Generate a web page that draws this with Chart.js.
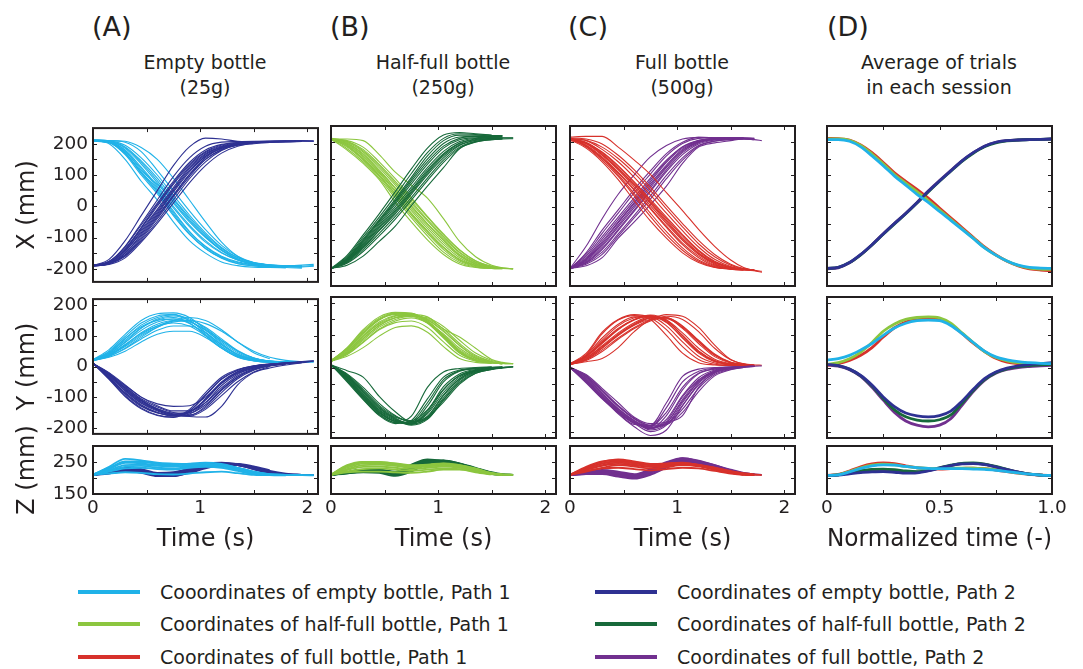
<!DOCTYPE html>
<html>
<head>
<meta charset="utf-8">
<script src="https://cdn.jsdelivr.net/npm/chart.js@4.4.1/dist/chart.umd.min.js"></script>
<style>
  html, body { margin: 0; padding: 0; background: #fff; }
  body { width: 1083px; height: 669px; position: relative; overflow: hidden;
         font-family: "DejaVu Sans", sans-serif; color: #231f20; }
  canvas { position: absolute; }
  .hdr { position: absolute; top: 12px; font-size: 27px; line-height: 30px; white-space: nowrap; }
  .ttl { position: absolute; top: 50px; width: 260px; text-align: center; font-size: 19px; line-height: 25px; }
  .leg { position: absolute; font-size: 19px; line-height: 20px; white-space: nowrap; }
  .leg i { position: absolute; left: -82px; top: 8px; width: 62px; height: 4px; }
</style>
</head>
<body>
<div class="hdr" style="left:92px">(A)</div>
<div class="hdr" style="left:330px">(B)</div>
<div class="hdr" style="left:568px">(C)</div>
<div class="hdr" style="left:827px">(D)</div>
<div class="ttl" style="left:75px">Empty bottle<br>(25g)</div>
<div class="ttl" style="left:313px">Half-full bottle<br>(250g)</div>
<div class="ttl" style="left:552px">Full bottle<br>(500g)</div>
<div class="ttl" style="left:809px">Average of trials<br>in each session</div>

<div class="leg" style="left:160px;top:582px"><i style="background:#20b2e8"></i>Cooordinates of empty bottle, Path 1</div>
<div class="leg" style="left:160px;top:614px"><i style="background:#8cc63f"></i>Coordinates of half-full bottle, Path 1</div>
<div class="leg" style="left:160px;top:647px"><i style="background:#d7312b"></i>Coordinates of full bottle, Path 1</div>
<div class="leg" style="left:677px;top:582px"><i style="background:#2e3192"></i>Coordinates of empty bottle, Path 2</div>
<div class="leg" style="left:677px;top:614px"><i style="background:#17693a"></i>Coordinates of half-full bottle, Path 2</div>
<div class="leg" style="left:677px;top:647px"><i style="background:#71308f"></i>Coordinates of full bottle, Path 2</div>

<script>
// ---- sample times (s) of the recorded trials in each session ----
const tEmpty = [0, 0.15, 0.3, 0.45, 0.6, 0.75, 0.9, 1.05, 1.2, 1.35, 1.5, 1.65, 1.8, 1.95, 2.06];
const tHalf  = [0, 0.15, 0.3, 0.45, 0.6, 0.75, 0.9, 1.05, 1.2, 1.35, 1.5, 1.6, 1.7];
const tFull  = [0, 0.15, 0.3, 0.45, 0.6, 0.75, 0.9, 1.05, 1.2, 1.35, 1.5, 1.62, 1.72, 1.79];
// normalized time for the session averages
const tNorm  = [0, 0.05, 0.1, 0.15, 0.2, 0.25, 0.3, 0.35, 0.4, 0.45, 0.5, 0.55, 0.6, 0.65, 0.7, 0.75, 0.8, 0.85, 0.9, 0.95, 1];

// ---- empty bottle (25 g), one row per trial, mm ----
const emptyX1 = [
  [210,200,150,80,20,-50,-110,-150,-178,-190,-195,-196,-197],
  [212,205,165,100,40,-30,-90,-135,-165,-183,-190,-192,-193,-193],
  [208,204,175,120,60,-5,-65,-115,-150,-172,-183,-188,-190,-191,-190],
  [210,207,185,135,75,10,-50,-100,-140,-168,-182,-188,-190],
  [211,208,190,145,90,25,-35,-90,-135,-165,-180,-187,-190,-192],
  [210,210,205,175,115,50,-15,-75,-125,-160,-180,-188],
  [209,203,170,110,55,-15,-80,-130,-162,-180,-188,-190,-190,-188,-186],
  [210,206,180,125,65,0,-60,-110,-148,-172,-185,-192,-196,-198],
  [213,208,178,115,70,20,-40,-95,-140,-170,-186,-193,-196],
  [210,210,208,188,150,90,20,-50,-115,-160,-182,-190,-192,-195],
  [211,206,172,105,45,-25,-88,-135,-166,-184,-191,-194,-196],
  [210,208,188,140,82,15,-45,-98,-142,-170,-184,-190,-193,-194,-192],
  [209,204,168,108,50,-20,-82,-128,-160,-178,-187,-190,-191,-190],
  [212,209,195,155,100,35,-28,-85,-132,-164,-181,-188,-191]
];
const emptyX2 = [
  [-190,-170,-110,-30,50,130,190,218,215,208,206,207,207],
  [-192,-178,-130,-60,10,80,140,180,198,204,206,207,207,208],
  [-188,-180,-145,-80,-15,55,120,165,190,200,205,207,208,208,208],
  [-190,-182,-150,-90,-25,45,110,160,188,200,205,206,207],
  [-191,-184,-158,-105,-40,30,95,150,182,198,204,206,207,208],
  [-190,-186,-165,-115,-55,10,75,130,170,192,202,206],
  [-189,-176,-135,-70,0,70,130,172,193,202,206,208,209,209,208],
  [-190,-180,-140,-75,-10,60,125,168,190,200,204,206,206,207],
  [-192,-183,-150,-95,-30,35,100,150,180,196,203,206,207],
  [-190,-179,-142,-85,-20,50,115,160,185,195,200,204,206,208],
  [-191,-181,-138,-68,5,75,135,175,196,204,207,208,208],
  [-189,-183,-155,-100,-35,35,102,155,186,200,206,208,209,210,209],
  [-190,-177,-128,-55,20,95,155,192,205,207,208,208,208,208],
  [-192,-185,-160,-110,-48,20,88,142,178,197,204,207,208]
];
const emptyY1 = [
  [22,55,105,150,172,175,160,120,75,40,25,18,15],
  [20,45,90,135,160,168,155,125,85,50,28,18,15,14],
  [18,35,70,110,138,150,145,120,85,50,28,18,15,14,15],
  [20,30,50,80,105,115,115,95,60,30,18,14,13],
  [24,42,78,118,145,155,148,118,80,45,25,17,15,16],
  [20,33,60,95,128,150,160,150,120,80,45,25],
  [22,48,92,130,150,155,140,105,65,35,20,15,14,15,15],
  [19,38,72,108,132,142,132,100,60,32,19,14,14,15],
  [21,40,80,125,155,165,150,110,65,35,22,17,16],
  [20,36,65,100,128,145,150,140,115,80,50,30,20,16],
  [20,50,98,142,165,170,150,112,70,38,22,16,15,16],
  [21,38,68,104,132,148,150,128,90,52,28,18,16],
  [19,44,85,126,152,160,142,102,60,32,19,15,15,16,17],
  [22,34,58,90,118,132,132,110,72,40,22,16,15,15]
];
const emptyY2 = [
  [10,-40,-95,-135,-158,-165,-140,-85,-35,-10,2,8,12],
  [12,-30,-80,-120,-145,-158,-150,-110,-55,-20,-3,6,10,14],
  [8,-25,-70,-110,-138,-152,-152,-125,-75,-35,-10,3,10,15,18],
  [10,-20,-60,-100,-122,-130,-128,-100,-55,-22,-6,4,8],
  [10,-35,-85,-125,-150,-162,-155,-118,-62,-25,-5,5,10,13],
  [11,-28,-72,-112,-140,-158,-162,-140,-95,-50,-18,0],
  [9,-22,-65,-108,-138,-155,-163,-165,-130,-60,-20,-5,5,12,18],
  [10,-32,-78,-118,-142,-155,-148,-108,-52,-18,-2,6,10,12],
  [12,-38,-90,-130,-152,-160,-145,-95,-42,-12,2,8,12],
  [10,-26,-68,-105,-132,-150,-158,-135,-85,-40,-12,2,10,16],
  [10,-36,-88,-128,-150,-160,-150,-105,-50,-16,0,7,11,14],
  [9,-28,-75,-115,-142,-160,-160,-130,-78,-35,-10,2,8],
  [11,-42,-98,-138,-160,-166,-145,-92,-40,-12,1,8,12,16,19],
  [10,-24,-62,-100,-128,-145,-145,-118,-70,-30,-8,3,9,13]
];
const emptyZ1 = [
  [210,235,260,255,248,245,243,242,240,232,220,212,210],
  [208,228,248,250,245,242,244,245,240,228,215,210,209,209],
  [212,225,240,242,238,236,240,242,238,225,214,210,210,209,209],
  [209,220,230,232,228,226,232,235,232,222,212,209,208],
  [210,230,252,252,244,238,236,238,236,226,215,211,210,210],
  [211,222,235,238,232,230,235,240,240,232,220,212],
  [210,214,218,216,212,211,214,218,220,215,210,209,209,209,208],
  [210,232,248,246,240,240,245,248,244,232,218,211,210,210]
];
const emptyZ2 = [
  [210,218,226,222,210,212,225,240,245,240,228,215,210],
  [209,216,224,220,208,210,222,238,246,244,232,218,211,210],
  [210,220,228,224,212,214,228,242,246,242,232,220,212,210,209],
  [211,215,222,216,206,206,218,234,242,240,230,216,211],
  [210,219,230,226,214,216,230,244,248,243,230,216,210,209],
  [210,217,225,221,210,211,222,236,244,244,236,224],
  [209,214,220,218,208,207,216,230,240,242,234,222,214,210,209],
  [210,221,232,228,216,218,230,242,246,240,228,214,210,210]
];

// ---- half-full bottle (250 g) ----
const halfX1 = [
  [210,176,135,85,15,-45,-100,-145,-174,-185,-188],
  [210,185,145,95,35,-25,-80,-130,-165,-182,-188,-189],
  [211,192,155,105,48,-10,-65,-115,-155,-178,-186,-188,-190],
  [209,196,162,112,58,2,-52,-102,-148,-174,-185,-188],
  [210,200,170,122,68,12,-42,-95,-140,-170,-184],
  [212,203,178,132,80,25,-30,-85,-132,-165,-182,-187],
  [210,210,205,162,108,68,28,-35,-105,-152,-178,-186,-189],
  [210,198,165,115,60,5,-50,-100,-145,-172,-184,-188],
  [211,190,150,100,40,-20,-75,-125,-162,-180,-187],
  [210,205,185,140,88,30,-28,-82,-130,-164,-181,-187],
  [210,188,148,98,42,-18,-72,-122,-160,-179,-186,-188],
  [211,202,174,128,74,18,-38,-90,-138,-168,-183,-187,-189],
  [210,194,158,108,52,-4,-58,-108,-150,-176,-186],
  [209,180,140,90,28,-32,-88,-138,-170,-184,-188,-189]
];
const halfX2 = [
  [-188,-148,-85,-20,48,118,182,222,230,226,222],
  [-190,-155,-98,-38,25,92,158,205,222,222,220,220],
  [-187,-160,-108,-50,10,72,132,182,208,214,215,214,214],
  [-188,-163,-115,-60,-5,55,115,165,198,210,213,213],
  [-189,-166,-122,-70,-15,45,105,158,192,206,210],
  [-188,-170,-130,-80,-28,30,90,145,185,203,208,210],
  [-188,-178,-150,-105,-58,5,65,122,180,200,208,210,211],
  [-190,-158,-105,-45,15,80,140,188,212,218,218,218],
  [-188,-162,-112,-55,2,62,122,172,202,212,214],
  [-187,-168,-125,-72,-20,40,100,152,190,206,211,213],
  [-189,-152,-92,-30,35,104,168,212,226,224,221,220],
  [-188,-164,-118,-64,-10,50,110,162,196,208,212,213,213],
  [-190,-158,-102,-42,20,86,148,196,216,218,217],
  [-188,-172,-136,-88,-36,22,82,138,182,202,209,211]
];
const halfY1 = [
  [20,62,118,158,172,170,145,100,50,24,15,12],
  [22,55,105,148,168,168,145,102,55,28,16],
  [18,48,95,138,160,165,150,115,70,35,18,13,12],
  [20,40,78,118,140,145,125,80,38,20,14,12],
  [20,35,62,98,125,130,110,65,28,16,13],
  [21,52,100,142,162,165,148,112,68,32,17,13],
  [20,45,90,130,155,165,158,120,95,60,25,16,12],
  [19,50,98,136,155,160,140,98,52,25,15,12],
  [23,58,110,150,165,162,138,92,45,22,14],
  [20,44,85,126,150,160,155,128,85,45,22,14],
  [21,56,108,150,168,166,142,96,48,23,15,12],
  [19,46,90,132,155,162,152,120,75,38,19,13,12],
  [22,60,114,154,170,168,140,95,46,22,14],
  [20,42,80,120,145,155,140,105,60,30,16,12]
];
const halfY2 = [
  [8,-42,-98,-148,-172,-152,-62,-14,-3,0,2],
  [10,-35,-88,-138,-168,-172,-120,-45,-12,-4,0,2],
  [6,-28,-78,-128,-160,-178,-155,-88,-35,-12,-4,0,3],
  [8,-20,-62,-112,-150,-170,-160,-100,-45,-15,-5,0],
  [8,-10,-30,-90,-138,-170,-152,-85,-36,-11,-3],
  [9,-38,-92,-142,-170,-176,-140,-70,-25,-8,-2,1],
  [7,-30,-82,-132,-162,-180,-162,-102,-48,-18,-6,-2,2],
  [8,-25,-72,-122,-155,-166,-132,-68,-26,-9,-3,0],
  [10,-45,-100,-150,-175,-165,-98,-30,-8,-2,1],
  [8,-32,-85,-135,-165,-174,-145,-78,-30,-10,-3,1],
  [9,-40,-95,-145,-172,-168,-110,-38,-10,-3,1,2],
  [7,-26,-75,-125,-158,-176,-158,-95,-40,-14,-5,0,2],
  [8,-36,-90,-140,-168,-174,-135,-60,-20,-6,0],
  [9,-22,-68,-118,-152,-168,-155,-108,-52,-18,-6,-1]
];
const halfZ1 = [
  [210,240,250,249,246,240,242,246,240,230,216,211,210],
  [209,232,245,246,242,236,240,244,236,225,213,210],
  [211,225,235,236,232,228,232,236,232,222,212],
  [210,220,228,230,226,222,226,230,228,220,212,210],
  [210,236,248,248,242,236,238,242,236,226,215,211,210],
  [210,218,220,220,218,216,220,226,226,218,211],
  [211,238,250,250,245,238,240,245,240,228,214,210],
  [210,228,240,242,238,233,236,240,235,224,213,210]
];
const halfZ2 = [
  [210,216,222,222,215,232,252,250,238,224,214,211],
  [209,218,225,224,212,240,256,254,242,226,215],
  [210,214,220,220,210,225,248,255,245,230,216,211,210],
  [211,217,223,225,218,236,254,252,240,225,213,210],
  [210,215,218,216,207,220,245,250,244,230,216],
  [210,219,226,226,220,242,258,252,238,222,212,210],
  [209,216,222,220,212,230,250,254,246,232,218,212,210],
  [210,217,224,223,214,234,252,250,240,226,214,210]
];

// ---- full bottle (500 g) ----
const fullX1 = [
  [208,182,140,85,20,-42,-95,-140,-170,-185,-190,-193],
  [210,188,150,100,42,-18,-75,-125,-162,-182,-190,-193,-195],
  [212,195,160,115,62,5,-50,-102,-145,-174,-187,-191],
  [210,200,168,125,75,20,-35,-88,-135,-168,-185,-190,-192],
  [205,196,162,118,68,12,-45,-98,-142,-172,-186],
  [210,205,178,140,92,38,-18,-72,-122,-160,-182,-190,-193],
  [216,218,218,185,145,101,45,-10,-68,-120,-162,-185,-195,-200],
  [210,198,165,120,70,15,-40,-95,-140,-170,-186,-191],
  [211,190,152,105,52,-5,-62,-115,-155,-180,-189,-192,-194],
  [214,210,195,160,115,62,5,-50,-102,-145,-175,-188,-193],
  [210,192,155,108,55,-2,-58,-110,-150,-177,-188,-192,-194],
  [209,198,170,128,78,24,-30,-84,-132,-166,-184,-190],
  [211,186,145,95,35,-28,-85,-132,-166,-184,-190,-193],
  [212,206,185,150,105,52,-5,-60,-112,-152,-178,-189,-194,-197]
];
const fullX2 = [
  [-188,-120,-35,40,100,155,190,210,215,214,213,213],
  [-190,-140,-70,-8,55,112,165,200,215,214,213],
  [-187,-150,-90,-30,30,90,145,185,205,212,214,213,212],
  [-188,-160,-110,-48,12,72,130,178,202,210,212,212],
  [-189,-165,-120,-60,0,60,122,172,200,209,211,210,208],
  [-188,-170,-130,-72,-12,48,110,162,195,207,210],
  [-188,-180,-155,-95,-45,8,65,135,185,198,205,210,208,205],
  [-190,-168,-126,-68,-8,52,115,168,198,208,212,213],
  [-188,-158,-105,-45,15,78,138,182,204,211,214,214,212],
  [-187,-172,-138,-82,-25,35,98,152,190,204,209,210],
  [-188,-145,-80,-18,45,102,158,196,212,214,213,212],
  [-189,-162,-115,-55,6,66,126,175,201,210,212,212,211],
  [-187,-155,-98,-38,22,84,142,186,206,212,214],
  [-188,-175,-145,-88,-32,25,88,145,188,203,208,210,209]
];
const fullY1 = [
  [10,40,105,148,162,150,100,45,15,8,6,5],
  [12,35,85,130,155,162,140,95,48,20,10,7,6],
  [8,28,68,108,140,158,148,108,60,26,12,8],
  [10,18,28,62,112,148,155,128,82,40,16,9,7],
  [10,32,75,118,148,160,145,100,52,22,10],
  [9,25,60,100,132,150,152,125,80,38,15,8,6],
  [10,24,55,92,125,150,165,160,125,70,25,12,8,7],
  [11,36,80,122,150,162,142,92,45,18,9,7],
  [10,30,65,104,136,155,155,122,75,34,14,9,7],
  [12,44,110,150,165,155,118,65,25,10,7,6,5],
  [10,38,92,135,158,158,130,80,35,14,8,6],
  [11,26,62,102,134,154,156,130,85,42,16,9,7],
  [9,34,78,120,150,164,148,100,50,20,10,7,6],
  [10,22,50,88,122,145,160,150,112,60,24,11,8]
];
const fullY2 = [
  [0,-48,-98,-142,-178,-180,-110,-28,-5,0,2,3],
  [2,-40,-90,-138,-172,-190,-150,-70,-20,-5,0],
  [-2,-35,-85,-132,-168,-195,-175,-100,-40,-12,-2,2,4],
  [0,-25,-72,-120,-160,-186,-178,-118,-55,-18,-4,1],
  [0,-38,-92,-145,-185,-212,-195,-120,-50,-15,-3,2,3],
  [1,-22,-65,-110,-155,-175,-170,-150,-62,-16,-3],
  [0,-45,-95,-140,-172,-182,-140,-62,-18,-4,1,3,4,5],
  [-1,-30,-80,-128,-165,-188,-168,-92,-38,-10,-1,2],
  [0,-42,-92,-135,-170,-192,-162,-88,-32,-8,0,3,4],
  [2,-28,-75,-122,-160,-180,-175,-130,-65,-22,-6,0],
  [1,-44,-96,-140,-175,-185,-125,-45,-12,-2,1,3],
  [0,-32,-82,-130,-166,-190,-172,-105,-45,-14,-2,2,4],
  [-1,-38,-88,-136,-174,-200,-180,-110,-45,-12,-2,2],
  [1,-26,-70,-118,-158,-182,-178,-140,-75,-26,-7,0,3]
];
const fullZ1 = [
  [210,235,252,256,250,242,244,246,240,230,220,213,210],
  [209,228,245,252,246,240,242,245,238,228,218,211],
  [211,225,240,248,242,236,240,244,240,232,222,215,211,209],
  [210,220,232,240,236,230,234,240,236,226,216,210],
  [210,232,250,258,252,244,246,248,240,228,216,211,209],
  [210,222,230,232,228,224,228,232,230,222,214,210,209],
  [209,230,246,252,248,242,243,246,242,232,220,212],
  [211,226,238,244,240,235,238,242,238,228,218,212,210]
];
const fullZ2 = [
  [210,212,214,208,204,218,238,258,250,236,222,214],
  [209,214,218,212,206,222,244,262,252,236,220,213,211],
  [210,216,222,216,210,226,248,258,248,234,220,212],
  [211,213,215,206,200,212,234,252,250,238,224,215,212],
  [210,218,225,220,212,228,250,262,254,240,224,214,211,210],
  [210,212,212,204,198,210,232,250,246,234,222],
  [209,215,220,214,208,222,242,256,250,236,222,214],
  [210,214,218,210,204,216,238,255,252,240,226,216,212]
];

// ---- session averages on normalized time ----
const avgEmptyX1 = [208,208,203,186,158,128,96,68,40,15,-13,-40,-68,-96,-125,-147,-165,-178,-185,-187,-188];
const avgHalfX1  = [210,210,206,190,164,134,101,74,48,21,-8,-37,-66,-95,-124,-147,-165,-179,-187,-190,-191];
const avgFullX1  = [212,211,207,192,168,138,106,80,55,28,-2,-32,-62,-92,-122,-146,-166,-180,-189,-193,-195];
const avgEmptyX2 = [-188,-185,-170,-145,-115,-82,-50,-19,14,49,81,112,143,168,188,200,205,207,208,209,210];
const avgHalfX2  = [-188,-185,-170,-146,-116,-83,-51,-20,13,47,80,111,141,166,186,198,204,207,208,209,210];
const avgFullX2  = [-189,-186,-171,-146,-115,-81,-49,-18,15,50,82,113,143,168,188,200,205,207,209,209,210];
const avgEmptyY1 = [23,28,38,55,75,100,123,138,146,148,146,131,106,78,51,33,24,18,15,13,12];
const avgHalfY1  = [10,15,27,48,78,113,136,150,156,158,155,138,108,78,50,31,21,15,13,12,12];
const avgFullY1  = [7,12,22,38,62,95,124,142,150,153,150,134,106,76,50,29,17,12,10,10,10];
const avgEmptyY2 = [10,6,-5,-25,-55,-92,-122,-142,-151,-154,-150,-136,-105,-68,-35,-14,-2,5,9,12,15];
const avgHalfY2  = [10,6,-5,-26,-58,-97,-132,-154,-164,-167,-163,-148,-112,-72,-38,-16,-4,3,6,8,10];
const avgFullY2  = [8,4,-7,-28,-62,-102,-140,-167,-180,-185,-180,-160,-118,-75,-40,-18,-6,0,3,5,7];
const avgEmptyZ1 = [208,210,219,230,238,241,240,236,232,230,229,229,229,228,227,224,220,216,212,209,208];
const avgHalfZ1  = [208,210,220,232,240,243,241,236,232,230,229,230,231,231,229,226,221,216,212,209,208];
const avgFullZ1  = [208,211,222,235,244,247,245,238,232,229,228,229,230,231,229,225,220,215,211,209,208];
const avgEmptyZ2 = [208,209,213,217,219,220,218,215,216,222,231,239,244,245,242,235,226,218,212,209,208];
const avgHalfZ2  = [208,210,217,223,227,228,226,222,220,224,232,240,246,247,243,236,227,218,212,209,208];
const avgFullZ2  = [208,210,216,221,225,226,224,220,219,223,231,239,245,246,243,235,226,218,212,209,208];

// ---- axis ticks ----
const yTickVals = {
  X: [-200,-150,-100,-50,0,50,100,150,200],
  Y: [-200,-150,-100,-50,0,50,100,150,200],
  Z: [150,200,250]
};
const yTickText = {
  X: {'-200':'-200','-100':'-100','0':'0','100':'100','200':'200'},
  Y: {'-200':'-200','-100':'-100','0':'0','100':'100','200':'200'},
  Z: {'150':'150','250':'250'}
};
const timeTickVals = [0, 0.5, 1, 1.5, 2];
const timeTickText = {'0':'0','1':'1','2':'2'};
const normTickVals = [0, 0.25, 0.5, 0.75, 1];
const normTickText = {'0':'0','0.5':'0.5','1':'1.0'};

// ---- colours ----
const C_EMPTY1 = '#20b2e8', C_EMPTY2 = '#2e3192';
const C_HALF1  = '#8cc63f', C_HALF2  = '#17693a';
const C_FULL1  = '#d7312b', C_FULL2  = '#71308f';

// ---- layout of the 4 x 3 panel grid (px) ----
const PANEL_W = 225;
const colLeft = {A: 93, B: 331, C: 570, D: 827};
const rowBox = {X: {top: 126, h: 160}, Y: {top: 297, h: 141}, Z: {top: 446, h: 48}};
const yRange = {X: [-242, 250], Y: [-220, 220], Z: [150, 300]};
const yTitle = {X: 'X (mm)', Y: 'Y (mm)', Z: 'Z (mm)'};
const INK = '#231f20';
const FONT = '"DejaVu Sans", sans-serif';

function trial(times, vals, color, width) {
  return {
    data: vals.map((v, i) => ({x: times[i], y: v})),
    borderColor: color, borderWidth: width, pointRadius: 0, fill: false,
    cubicInterpolationMode: 'monotone'
  };
}
function bundle(times, rows, color, width) {
  return rows.map(r => trial(times, r, color, width));
}

// inward MATLAB-style tick marks and a dark box around the plot area
const boxFrame = {
  id: 'boxFrame',
  afterDatasetsDraw(chart, args, opts) {
    const {ctx, chartArea: a, scales} = chart;
    ctx.save();
    ctx.strokeStyle = INK;
    ctx.lineWidth = 1;
    ctx.beginPath();
    opts.xTicks.forEach(v => {
      const p = Math.round(scales.x.getPixelForValue(v)) + 0.5;
      ctx.moveTo(p, a.bottom); ctx.lineTo(p, a.bottom - 4);
      ctx.moveTo(p, a.top); ctx.lineTo(p, a.top + 4);
    });
    opts.yTicks.forEach(v => {
      const p = Math.round(scales.y.getPixelForValue(v)) + 0.5;
      ctx.moveTo(a.left, p); ctx.lineTo(a.left + 4, p);
      ctx.moveTo(a.right, p); ctx.lineTo(a.right - 4, p);
    });
    ctx.stroke();
    ctx.lineWidth = 2;
    ctx.strokeRect(a.left, a.top, a.right - a.left, a.bottom - a.top);
    ctx.restore();
  }
};

function panel(col, row, datasets) {
  const norm = col === 'D';
  const showY = col === 'A', showX = row === 'Z';
  const L = showY ? colLeft.A : 14;
  const R = norm ? 30 : 14;
  const T = row === 'Z' ? 42 : 14;
  const B = showX ? 72 : 12;
  const box = rowBox[row];
  const cv = document.createElement('canvas');
  cv.width = PANEL_W + L + R;
  cv.height = box.h + T + B;
  cv.style.left = (colLeft[col] - L) + 'px';
  cv.style.top = (box.top - T) + 'px';
  document.body.appendChild(cv);

  const xVals = norm ? normTickVals : timeTickVals;
  const xText = norm ? normTickText : timeTickText;
  const tickFont = {family: FONT, size: 18.5};
  const titleFont = {family: FONT, size: 24};

  new Chart(cv, {
    type: 'line',
    data: {datasets},
    plugins: [boxFrame],
    options: {
      responsive: false, animation: false, devicePixelRatio: 1,
      events: [],
      layout: {padding: {top: T, right: R, left: 0, bottom: 0}},
      plugins: {
        legend: {display: false}, tooltip: {enabled: false},
        boxFrame: {xTicks: xVals, yTicks: yTickVals[row]}
      },
      scales: {
        x: {
          type: 'linear', min: 0, max: norm ? 1 : 2.1,
          afterBuildTicks: s => { s.ticks = xVals.map(v => ({value: v})); },
          afterFit: s => { s.height = B; },
          grid: {display: false, drawTicks: false}, border: {display: false},
          ticks: {display: showX, padding: 3, autoSkip: false, maxRotation: 0, minRotation: 0,
                  color: INK, font: tickFont, callback: v => xText[String(v)] ?? ''},
          title: {display: showX, text: norm ? 'Normalized time (-)' : 'Time (s)',
                  color: INK, font: titleFont, padding: {top: 0, bottom: 12}}
        },
        y: {
          type: 'linear', min: yRange[row][0], max: yRange[row][1],
          afterBuildTicks: s => { s.ticks = yTickVals[row].map(v => ({value: v})); },
          afterFit: s => { s.width = L; },
          grid: {display: false, drawTicks: false}, border: {display: false},
          ticks: {display: showY, padding: 5, autoSkip: false, color: INK, font: tickFont,
                  callback: v => yTickText[row][String(v)] ?? ''},
          title: {display: showY, text: yTitle[row], color: INK, font: titleFont,
                  padding: {top: 13, bottom: 0}}
        }
      }
    }
  });
}

const W = 1.1, WZ = 1.8, WAVG = 2.8;

panel('A', 'X', [...bundle(tEmpty, emptyX2, C_EMPTY2, W), ...bundle(tEmpty, emptyX1, C_EMPTY1, W)]);
panel('A', 'Y', [...bundle(tEmpty, emptyY2, C_EMPTY2, W), ...bundle(tEmpty, emptyY1, C_EMPTY1, W)]);
panel('A', 'Z', [...bundle(tEmpty, emptyZ1, C_EMPTY1, WZ), ...bundle(tEmpty, emptyZ2, C_EMPTY2, WZ)]);

panel('B', 'X', [...bundle(tHalf, halfX2, C_HALF2, W), ...bundle(tHalf, halfX1, C_HALF1, W)]);
panel('B', 'Y', [...bundle(tHalf, halfY2, C_HALF2, W), ...bundle(tHalf, halfY1, C_HALF1, W)]);
panel('B', 'Z', [...bundle(tHalf, halfZ1, C_HALF1, WZ), ...bundle(tHalf, halfZ2, C_HALF2, WZ)]);

panel('C', 'X', [...bundle(tFull, fullX1, C_FULL1, W), ...bundle(tFull, fullX2, C_FULL2, W)]);
panel('C', 'Y', [...bundle(tFull, fullY2, C_FULL2, W), ...bundle(tFull, fullY1, C_FULL1, W)]);
panel('C', 'Z', [...bundle(tFull, fullZ1, C_FULL1, WZ), ...bundle(tFull, fullZ2, C_FULL2, WZ)]);

function avgSet(x1e, x1h, x1f, x2e, x2h, x2f) {
  return [
    trial(tNorm, x1e, C_EMPTY1, WAVG), trial(tNorm, x2e, C_EMPTY2, WAVG),
    trial(tNorm, x1h, C_HALF1, WAVG),  trial(tNorm, x2h, C_HALF2, WAVG),
    trial(tNorm, x1f, C_FULL1, WAVG),  trial(tNorm, x2f, C_FULL2, WAVG)
  ];
}
panel('D', 'X', avgSet(avgEmptyX1, avgHalfX1, avgFullX1, avgEmptyX2, avgHalfX2, avgFullX2));
panel('D', 'Y', avgSet(avgEmptyY1, avgHalfY1, avgFullY1, avgEmptyY2, avgHalfY2, avgFullY2));
panel('D', 'Z', avgSet(avgEmptyZ1, avgHalfZ1, avgFullZ1, avgEmptyZ2, avgHalfZ2, avgFullZ2));
</script>
</body>
</html>
